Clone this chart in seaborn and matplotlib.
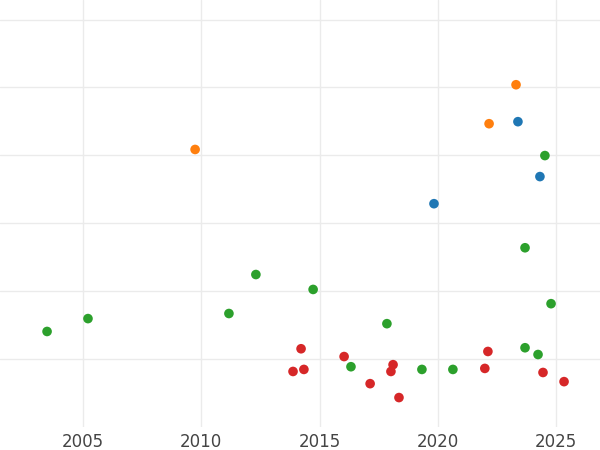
import pandas as pd
import matplotlib
matplotlib.use("Agg")
import matplotlib.pyplot as plt
import seaborn as sns

# values
green_year = [2003.48, 2005.21, 2011.17, 2012.31, 2014.73, 2016.33, 2017.85, 2019.33,
              2020.64, 2023.69, 2023.69, 2024.24, 2024.53, 2024.79]
green_val = [8.0, 11.8, 13.3, 24.8, 20.4, -2.4, 10.3, -3.2, -3.2, 3.2, 32.7, 1.2, 59.9, 16.2]

orange_year = [2009.74, 2022.17, 2023.31]
orange_val = [61.7, 69.3, 80.8]

blue_year = [2019.84, 2023.39, 2024.32]
blue_val = [45.7, 69.9, 53.7]

red_year = [2013.88, 2014.22, 2014.34, 2016.04, 2017.14, 2018.02, 2018.11, 2018.36,
            2021.99, 2022.12, 2024.45, 2025.34]
red_val = [-3.8, 2.9, -3.2, 0.6, -7.4, -3.8, -1.8, -11.5, -2.9, 2.1, -4.1, -6.8]

x_ticks = [2005, 2010, 2015, 2020, 2025]
y_grid = [0, 20, 40, 60, 80, 100]

groups = {
    "blue": (blue_year, blue_val),
    "orange": (orange_year, orange_val),
    "green": (green_year, green_val),
    "red": (red_year, red_val),
}
frames = []
for name, (xs, ys) in groups.items():
    frames.append(pd.DataFrame({"year": xs, "value": ys, "group": name}))
df = pd.concat(frames, ignore_index=True)

palette = {"blue": "#1f77b4", "orange": "#ff7f0e", "green": "#2ca02c", "red": "#d62728"}

sns.set_theme(style="white")
fig = plt.figure(figsize=(6, 4.5), dpi=100)
ax = fig.add_axes([0, 0.051, 1, 0.949])

sns.scatterplot(data=df, x="year", y="value", hue="group", palette=palette,
                s=48, linewidth=0, legend=False, ax=ax, zorder=3)

ax.set_xlim(2001.49, 2026.86)
ax.set_ylim(-20.2, 105.8)
ax.set_xticks(x_ticks)
ax.set_yticks(y_grid)
ax.set_yticklabels([])
ax.grid(True, color="#ebebeb", linewidth=1.0)
ax.set_axisbelow(True)
ax.tick_params(axis="both", length=0)
ax.tick_params(axis="x", labelsize=12, labelcolor="#444444", pad=4)
ax.set_xlabel("")
ax.set_ylabel("")
for sp in ax.spines.values():
    sp.set_visible(False)

fig.savefig("out.png", dpi=100)
